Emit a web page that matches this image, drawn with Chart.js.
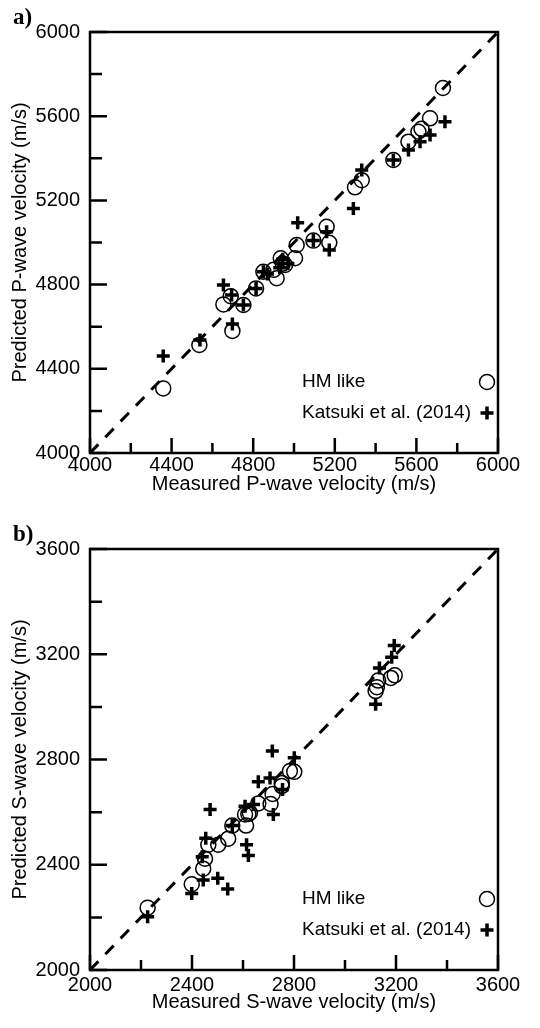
<!DOCTYPE html>
<html>
<head>
<meta charset="utf-8">
<script src="https://cdn.jsdelivr.net/npm/chart.js@4.4.0/dist/chart.umd.min.js"></script>
<style>
  html, body { margin: 0; padding: 0; background: #fff; }
  .panel { position: relative; width: 540px; height: 514px; }
  .tag { position: absolute; left: 13px; font: bold 23px 'Liberation Serif', 'Times New Roman', serif; }
</style>
</head>
<body>
<div class="panel">
  <div class="tag" style="top:4px">a)</div>
  <canvas id="pChart" width="540" height="514"></canvas>
</div>
<div class="panel">
  <div class="tag" style="top:7px">b)</div>
  <canvas id="sChart" width="540" height="514"></canvas>
</div>
<script>
// P-wave (panel a)
const pHmMeasured  = [4359, 4536, 4698, 4654, 4690, 4752, 4814, 4850, 4915, 4935, 4956, 4900, 4945, 5005, 5013, 5095, 5160, 5173, 5299, 5332, 5487, 5561, 5610, 5625, 5667, 5730];
const pHmPredicted = [4307, 4513, 4580, 4706, 4745, 4703, 4782, 4861, 4830, 4925, 4893, 4870, 4900, 4925, 4988, 5009, 5075, 4999, 5262, 5296, 5392, 5479, 5526, 5540, 5590, 5734];
const pKatMeasured  = [4359, 4539, 4698, 4654, 4694, 4752, 4814, 4850, 4870, 4930, 4945, 4970, 5018, 5095, 5160, 5173, 5291, 5332, 5487, 5561, 5618, 5667, 5740];
const pKatPredicted = [4461, 4537, 4613, 4798, 4751, 4703, 4782, 4861, 4850, 4880, 4920, 4900, 5094, 5009, 5051, 4964, 5162, 5344, 5392, 5439, 5479, 5511, 5574];

// S-wave (panel b)
const sHmMeasured  = [2226, 2399, 2444, 2451, 2464, 2503, 2542, 2558, 2612, 2608, 2621, 2627, 2660, 2708, 2716, 2752, 2752, 2784, 2801, 3120, 3125, 3130, 3180, 3195];
const sHmPredicted = [2237, 2326, 2385, 2423, 2476, 2476, 2499, 2549, 2549, 2591, 2593, 2597, 2633, 2631, 2669, 2699, 2711, 2756, 2753, 3060, 3075, 3100, 3110, 3120];
const sKatMeasured  = [2226, 2399, 2444, 2501, 2540, 2454, 2440, 2558, 2614, 2621, 2608, 2641, 2471, 2719, 2660, 2706, 2715, 2801, 2755, 3193, 3183, 3135, 3120];
const sKatPredicted = [2202, 2291, 2342, 2349, 2308, 2501, 2430, 2549, 2476, 2435, 2622, 2629, 2610, 2591, 2715, 2730, 2832, 2807, 2686, 3233, 3189, 3148, 3010];

const pRange = [4000, 6000];
const sRange = [2000, 3600];
const legendLabels = ['HM like', 'Katsuki et al. (2014)'];

const FONT = "'Liberation Sans', Arial, sans-serif";

function pairs(xs, ys) {
  return xs.map((x, i) => ({ x: x, y: ys[i] }));
}

function drawMarker(ctx, kind, cx, cy) {
  ctx.beginPath();
  if (kind === 'circle') {
    ctx.lineWidth = 1.5;
    ctx.arc(cx, cy, 7.5, 0, Math.PI * 2);
  } else {
    ctx.lineWidth = 3.5;
    ctx.moveTo(cx - 6.5, cy); ctx.lineTo(cx + 6.5, cy);
    ctx.moveTo(cx, cy - 6.5); ctx.lineTo(cx, cy + 6.5);
  }
  ctx.stroke();
}

// box, inward ticks and the legend inside the plot
const frameTicks = {
  id: 'frameTicks',
  afterDatasetsDraw(chart) {
    const { ctx, chartArea: a, scales: { x, y } } = chart;
    ctx.save();
    ctx.strokeStyle = '#000';
    ctx.lineWidth = 2.5;
    ctx.strokeRect(a.left, a.top, a.right - a.left, a.bottom - a.top);
    ctx.beginPath();
    x.ticks.forEach(t => {
      const px = x.getPixelForValue(t.value);
      const len = t.value % 400 === 0 ? 15 : 10;
      ctx.moveTo(px, a.bottom);
      ctx.lineTo(px, a.bottom - len);
    });
    y.ticks.forEach(t => {
      const py = y.getPixelForValue(t.value);
      const len = t.value % 400 === 0 ? 17 : 12;
      ctx.moveTo(a.left, py);
      ctx.lineTo(a.left + len, py);
    });
    ctx.stroke();

    // legend
    ctx.fillStyle = '#000';
    ctx.font = '19px ' + FONT;
    ctx.textBaseline = 'middle';
    const rows = [a.bottom - 71, a.bottom - 40];
    ctx.fillText(legendLabels[0], a.left + 212, rows[0]);
    ctx.fillText(legendLabels[1], a.left + 212, rows[1]);
    drawMarker(ctx, 'circle', a.right - 11, rows[0]);
    drawMarker(ctx, 'cross', a.right - 11, rows[1]);
    ctx.restore();
  }
};

function makeChart(id, range, hm, kat, xTitle, yTitle, padTop, tickPad, xTitlePad) {
  const tickLabel = v => (v % 400 === 0 ? v : '');
  new Chart(document.getElementById(id), {
    type: 'scatter',
    data: {
      datasets: [
        {
          label: legendLabels[1],
          data: kat,
          pointStyle: 'cross',
          pointRadius: 6.5,
          pointBorderWidth: 3.5,
          borderColor: '#000',
          backgroundColor: '#000'
        },
        {
          label: legendLabels[0],
          data: hm,
          pointStyle: 'circle',
          pointRadius: 7.5,
          pointBorderWidth: 1.5,
          borderColor: '#000',
          backgroundColor: 'rgba(255,255,255,0)'
        },
        {
          type: 'line',
          data: [{ x: range[0], y: range[0] }, { x: range[1], y: range[1] }],
          borderColor: '#000',
          borderWidth: 3,
          borderDash: [12, 10],
          pointRadius: 0,
          fill: false
        }
      ]
    },
    options: {
      responsive: false,
      animation: false,
      devicePixelRatio: 1,
      layout: { padding: { top: padTop, right: 42, left: 0, bottom: 0 } },
      plugins: { legend: { display: false }, tooltip: { enabled: false } },
      scales: {
        x: {
          type: 'linear',
          min: range[0], max: range[1],
          grid: { display: false, drawTicks: false },
          border: { display: false },
          afterFit: s => { s.height = 514 - padTop - 421; },
          ticks: { stepSize: 200, autoSkip: false, padding: tickPad, color: '#000',
                   font: { family: FONT, size: 20 }, maxRotation: 0, callback: tickLabel },
          title: { display: true, text: xTitle, color: '#000',
                   font: { family: FONT, size: 20 }, padding: { top: 0, bottom: xTitlePad } }
        },
        y: {
          type: 'linear',
          min: range[0], max: range[1],
          grid: { display: false, drawTicks: false },
          border: { display: false },
          afterFit: s => { s.width = 90; },
          ticks: { stepSize: 200, autoSkip: false, padding: 10, color: '#000',
                   font: { family: FONT, size: 20 }, callback: tickLabel },
          title: { display: true, text: yTitle, color: '#000',
                   font: { family: FONT, size: 20 }, padding: { top: 8, bottom: 0 } }
        }
      }
    },
    plugins: [frameTicks]
  });
}

makeChart('pChart', pRange, pairs(pHmMeasured, pHmPredicted), pairs(pKatMeasured, pKatPredicted),
  'Measured P-wave velocity (m/s)', 'Predicted P-wave velocity (m/s)', 32, 0, 18);
makeChart('sChart', sRange, pairs(sHmMeasured, sHmPredicted), pairs(sKatMeasured, sKatPredicted),
  'Measured S-wave velocity (m/s)', 'Predicted S-wave velocity (m/s)', 35, 3, 14);
</script>
</body>
</html>
